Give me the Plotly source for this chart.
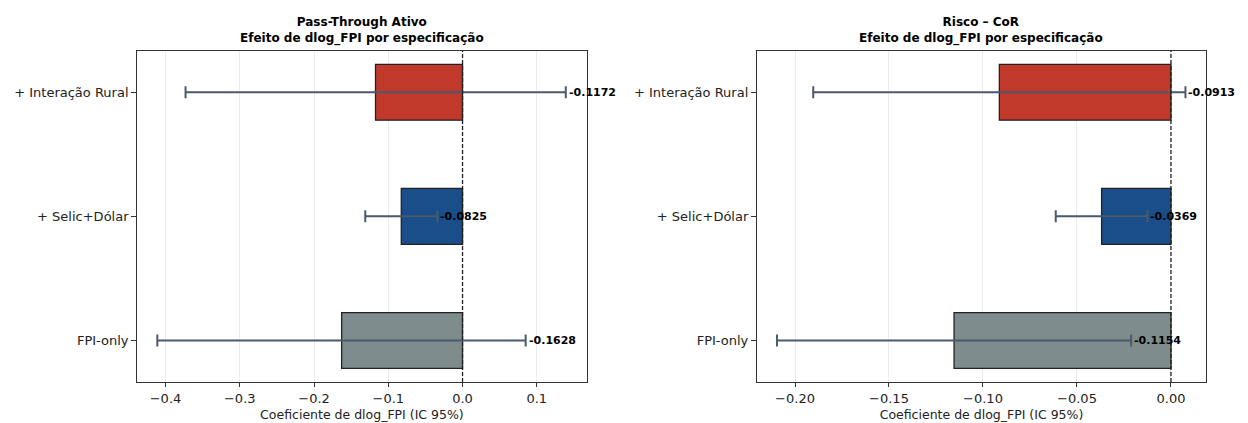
import plotly.graph_objects as go

# ---- data ----
specs = ["FPI-only", "+ Selic+Dólar", "+ Interação Rural"]
bar_colors = ["#7f8c8d", "#1a4e8a", "#c0392b"]

pt_coef = [-0.1628, -0.0825, -0.1172]
pt_lo = [-0.411, -0.131, -0.373]
pt_hi = [0.085, -0.034, 0.139]

cor_coef = [-0.1154, -0.0369, -0.0913]
cor_lo = [-0.2096, -0.0613, -0.1903]
cor_hi = [-0.0212, -0.0125, 0.0077]

panel_titles = ["<b>Pass-Through Ativo<br>Efeito de dlog_FPI por especificação</b>",
                "<b>Risco – CoR<br>Efeito de dlog_FPI por especificação</b>"]
xlabel = "Coeficiente de dlog_FPI (IC 95%)"

pt_ticks = [-0.4, -0.3, -0.2, -0.1, 0.0, 0.1]
pt_ticktext = ["−0.4", "−0.3", "−0.2", "−0.1", "0.0", "0.1"]
cor_ticks = [-0.20, -0.15, -0.10, -0.05, 0.00]
cor_ticktext = ["−0.20", "−0.15", "−0.10", "−0.05", "0.00"]

FONT = "DejaVu Sans, Liberation Sans, sans-serif"

fig = go.Figure()

XD1 = [0.1100, 0.4700]
XD2 = [0.6066, 0.9663]
YD = [0.0969, 0.8801]

panels = [
    (pt_coef, pt_lo, pt_hi, "x", "y", [-0.438, 0.167], pt_ticks, pt_ticktext),
    (cor_coef, cor_lo, cor_hi, "x2", "y2", [-0.2202, 0.0186], cor_ticks, cor_ticktext),
]

annotations = []
shapes = []
for i, (coef, lo, hi, xa, ya, xr, tv, tt) in enumerate(panels):
    fig.add_trace(go.Bar(
        x=coef, y=specs, orientation="h",
        marker=dict(color=bar_colors, line=dict(color="#222222", width=1.3)),
        width=0.45,
        error_x=dict(type="data", symmetric=False,
                     array=[h - c for h, c in zip(hi, coef)],
                     arrayminus=[c - l for c, l in zip(coef, lo)],
                     color="#4a5a6e", thickness=2, width=6),
        xaxis=xa, yaxis=ya, showlegend=False,
    ))
    for c, h, s in zip(coef, hi, specs):
        annotations.append(dict(
            x=h, y=s, xref=xa, yref=ya, text=f"<b>{c:.4f}</b>",
            showarrow=False, xanchor="left", yanchor="middle", xshift=1,
            font=dict(family=FONT, size=11, color="black"),
        ))
    shapes.append(dict(type="line", xref=xa, yref=f"{ya} domain",
                       x0=0, x1=0, y0=0, y1=1,
                       line=dict(color="#222222", width=1.3, dash="4px,2px"), layer="above"))

common_x = dict(showline=True, mirror=True, linecolor="#333333", linewidth=1.3,
                ticks="outside", ticklen=4, tickcolor="#333333",
                showgrid=True, gridcolor="rgba(0,0,0,0.08)", gridwidth=1,
                zeroline=False, tickfont=dict(family=FONT, size=13, color="#222"),
                title=dict(text=xlabel, font=dict(family=FONT, size=12.5, color="#222"),
                           standoff=5))
common_y = dict(showline=True, mirror=True, linecolor="#333333", linewidth=1.3,
                ticks="outside", ticklen=5, tickcolor="#333333",
                showgrid=False, zeroline=False, type="category",
                categoryorder="array", categoryarray=specs, range=[-0.335, 2.335],
                tickfont=dict(family=FONT, size=13, color="#222"))

fig.update_layout(
    width=1248, height=423,
    margin=dict(l=0, r=0, t=0, b=0),
    plot_bgcolor="white", paper_bgcolor="white",
    xaxis=dict(domain=XD1, range=panels[0][5], tickvals=pt_ticks,
               ticktext=pt_ticktext, anchor="y", **common_x),
    yaxis=dict(domain=YD, anchor="x", **common_y),
    xaxis2=dict(domain=XD2, range=panels[1][5], tickvals=cor_ticks,
                ticktext=cor_ticktext, anchor="y2", **common_x),
    yaxis2=dict(domain=YD, anchor="x2", **common_y),
    annotations=annotations + [
        dict(x=sum(XD1) / 2, y=YD[1], xref="paper", yref="paper",
             text=panel_titles[0], showarrow=False, xanchor="center", yanchor="bottom",
             yshift=3, font=dict(family=FONT, size=12, color="black")),
        dict(x=sum(XD2) / 2, y=YD[1], xref="paper", yref="paper",
             text=panel_titles[1], showarrow=False, xanchor="center", yanchor="bottom",
             yshift=3, font=dict(family=FONT, size=12, color="black")),
    ],
    shapes=shapes,
    bargap=0.55,
)

fig.write_html("out.html", config={"displayModeBar": False},
               post_script="document.body.style.margin='0';document.body.style.overflow='hidden';")
